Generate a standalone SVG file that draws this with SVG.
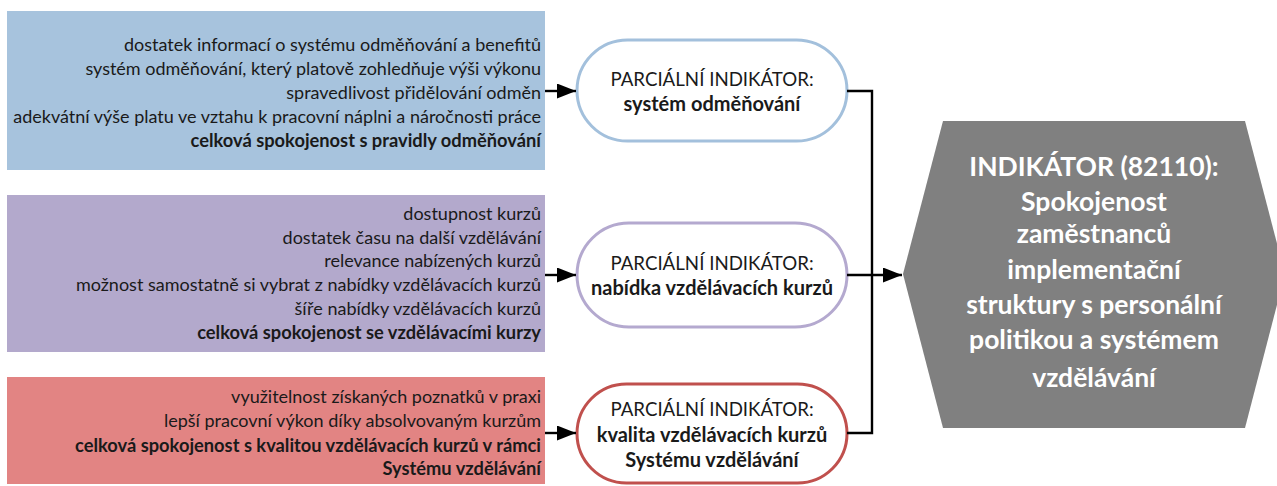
<svg xmlns="http://www.w3.org/2000/svg" width="1277" height="486" viewBox="0 0 1277 486">
<defs>
<style>
.t{font-family:Lato,"Open Sans","Noto Sans",sans-serif;font-size:18px;fill:#1a1a1a;text-anchor:end}
.b{font-weight:bold;font-size:18.3px}
.p{font-family:Lato,"Open Sans","Noto Sans",sans-serif;font-size:18.7px;fill:#1a1a1a;text-anchor:middle}
.pb{font-weight:bold;font-size:20px}
.h{font-family:Lato,"Open Sans","Noto Sans",sans-serif;font-size:26.5px;font-weight:bold;fill:#ffffff;text-anchor:middle}
.c{fill:none;stroke:#000;stroke-width:2.4}
</style>
<marker id="ar" viewBox="0 0 10 10" refX="10" refY="5" markerWidth="19" markerHeight="15" markerUnits="userSpaceOnUse" orient="auto" preserveAspectRatio="none">
<path d="M0,0 L10,5 L0,10 z" fill="#000"/>
</marker>
</defs>
<rect width="1277" height="486" fill="#ffffff"/>

<g id="box-odmenovani">
<rect x="7" y="11" width="538" height="159" fill="#A7C3DD"/>
<text class="t" x="541" y="51">dostatek informací o systému odměňování a benefitů</text>
<text class="t" x="541" y="75">systém odměňování, který platově zohledňuje výši výkonu</text>
<text class="t" x="541" y="99">spravedlivost přidělování odměn</text>
<text class="t" x="541" y="123">adekvátní výše platu ve vztahu k pracovní náplni a náročnosti práce</text>
<text class="t b" x="541" y="147">celková spokojenost s pravidly odměňování</text>
</g>

<g id="box-nabidka">
<rect x="7" y="195" width="538" height="157" fill="#B3A9CC"/>
<text class="t" x="541" y="220">dostupnost kurzů</text>
<text class="t" x="541" y="244">dostatek času na další vzdělávání</text>
<text class="t" x="541" y="267">relevance nabízených kurzů</text>
<text class="t" x="541" y="291">možnost samostatně si vybrat z nabídky vzdělávacích kurzů</text>
<text class="t" x="541" y="315">šíře nabídky vzdělávacích kurzů</text>
<text class="t b" x="541" y="339">celková spokojenost se vzdělávacími kurzy</text>
</g>

<g id="box-kvalita">
<rect x="7" y="377" width="538" height="107" fill="#E28483"/>
<text class="t" x="541" y="403">využitelnost získaných poznatků v praxi</text>
<text class="t" x="541" y="427">lepší pracovní výkon díky absolvovaným kurzům</text>
<text class="t b" x="541" y="452">celková spokojenost s kvalitou vzdělávacích kurzů v rámci</text>
<text class="t b" x="541" y="475">Systému vzdělávání</text>
</g>

<g id="pill-odmenovani">
<rect x="577" y="40" width="270" height="101" rx="50.5" ry="50.5" fill="#fff" stroke="#A3C0DC" stroke-width="3"/>
<text class="p" x="712" y="86">PARCIÁLNÍ INDIKÁTOR:</text>
<text class="p pb" x="712" y="111">systém odměňování</text>
</g>

<g id="pill-nabidka">
<rect x="577" y="223" width="270" height="104" rx="52" ry="52" fill="#fff" stroke="#B4A9CF" stroke-width="3"/>
<text class="p" x="712" y="270">PARCIÁLNÍ INDIKÁTOR:</text>
<text class="p pb" x="712" y="295">nabídka vzdělávacích kurzů</text>
</g>

<g id="pill-kvalita">
<rect x="577" y="384" width="270" height="99" rx="49.5" ry="49.5" fill="#fff" stroke="#C0504D" stroke-width="3"/>
<text class="p" x="712" y="416">PARCIÁLNÍ INDIKÁTOR:</text>
<text class="p pb" x="712" y="442">kvalita vzdělávacích kurzů</text>
<text class="p pb" x="712" y="467">Systému vzdělávání</text>
</g>

<g id="indikator">
<polygon points="943,121 1245,121 1285,274 1245,428 943,428 903,274" fill="#808080"/>
<text class="h" x="1094" y="176">INDIKÁTOR (82110):</text>
<text class="h" x="1094" y="211">Spokojenost</text>
<text class="h" x="1094" y="243">zaměstnanců</text>
<text class="h" x="1094" y="279">implementační</text>
<text class="h" x="1094" y="314">struktury s personální</text>
<text class="h" x="1094" y="349">politikou a systémem</text>
<text class="h" x="1094" y="387">vzdělávání</text>
</g>

<g id="connectors">
<line class="c" x1="545" y1="91" x2="576" y2="91" marker-end="url(#ar)"/>
<line class="c" x1="545" y1="275" x2="576" y2="275" marker-end="url(#ar)"/>
<line class="c" x1="545" y1="433" x2="576" y2="433" marker-end="url(#ar)"/>
<polyline class="c" points="847,91 872,91 872,433 847,433"/>
<line class="c" x1="847" y1="275" x2="902" y2="275" marker-end="url(#ar)"/>
</g>
</svg>
